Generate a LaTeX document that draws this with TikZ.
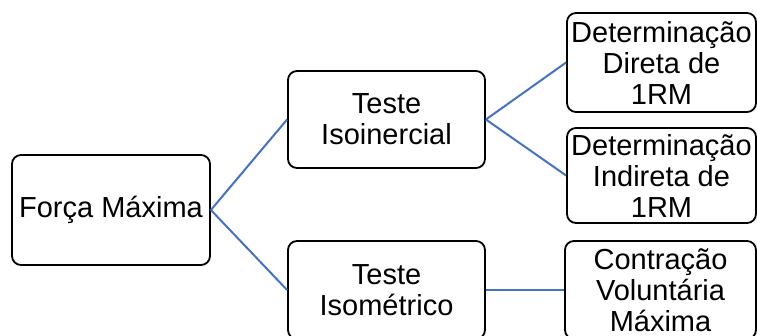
\documentclass[tikz,border=0pt]{standalone}
\usepackage{fontspec}
\setmainfont{Liberation Sans}
\definecolor{linkblue}{HTML}{4472C4}
\begin{document}
\begin{tikzpicture}[x=1pt,y=-1pt,
  box/.style={draw=black, line width=1.8pt, rounded corners=9pt, fill=white,
    inner sep=0pt, align=center, font=\fontsize{29}{31}\selectfont},
  link/.style={draw=linkblue, line width=2pt}]
\useasboundingbox (0,0) rectangle (757,336);
\node[box, minimum width=198pt, minimum height=110pt] (fm) at (111,210) {Força Máxima};
\node[box, minimum width=197pt, minimum height=97pt] (ti) at (386.5,119.5) {Teste\\Isoinercial};
\node[box, minimum width=197pt, minimum height=98pt] (tm) at (386.5,290) {Teste\\Isométrico};
\node[box, minimum width=189pt, minimum height=99pt] (dd) at (661.5,62.5) {Determinação\\Direta de\\1RM};
\node[box, minimum width=189pt, minimum height=95pt] (di) at (661.5,175.5) {Determinação\\Indireta de\\1RM};
\node[box, minimum width=191pt, minimum height=98pt] (cv) at (660.5,290) {Contração\\Voluntária\\Máxima};
\draw[link] (fm.east) -- (ti.west);
\draw[link] (fm.east) -- (tm.west);
\draw[link] (ti.east) -- (dd.west);
\draw[link] (ti.east) -- (di.west);
\draw[link] (tm.east) -- (cv.west);
\end{tikzpicture}
\end{document}
